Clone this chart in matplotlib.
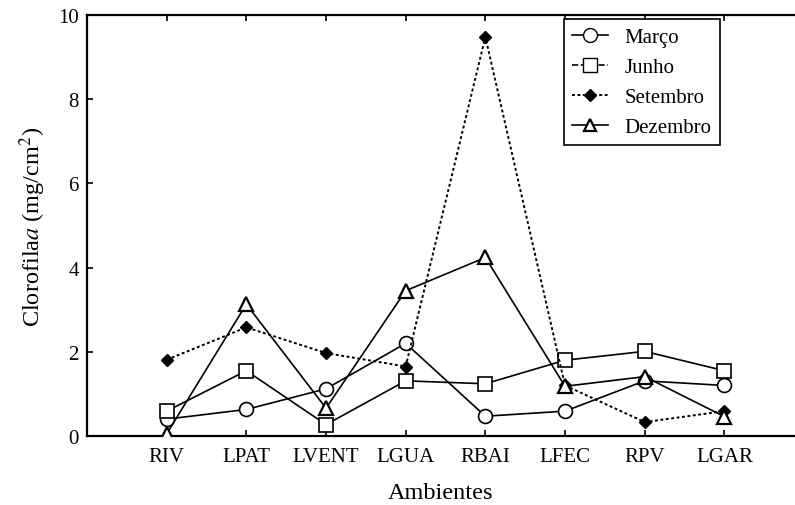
import matplotlib
matplotlib.use('Agg')
import matplotlib.pyplot as plt
from matplotlib.lines import Line2D

plt.rcParams['font.family'] = ['Liberation Serif', 'DejaVu Serif']
plt.rcParams['mathtext.fontset'] = 'stix'

ambientes = ['RIV', 'LPAT', 'LVENT', 'LGUA', 'RBAI', 'LFEC', 'RPV', 'LGAR']
marco = [0.40, 0.63, 1.12, 2.20, 0.47, 0.59, 1.31, 1.20]
junho = [0.59, 1.55, 0.27, 1.31, 1.24, 1.80, 2.01, 1.55]
setembro = [1.81, 2.58, 1.97, 1.65, 9.48, 1.20, 0.33, 0.59]
dezembro = [0.05, 3.13, 0.66, 3.45, 4.24, 1.18, 1.41, 0.46]

x = list(range(1, len(ambientes) + 1))

fig = plt.figure(figsize=(7.95, 5.06), dpi=100)
ax = fig.add_axes([0.1094, 0.1364, 0.902, 0.832])

ax.plot(x, marco, '-', color='black', lw=1.2, marker='o', ms=10, mfc='white', mec='black', mew=1.2, zorder=3)
ax.plot(x, junho, '-', color='black', lw=1.2, marker='s', ms=10, mfc='white', mec='black', mew=1.2, zorder=3)
ax.plot(x, setembro, color='black', lw=1.4, ls=(0, (1.5, 1.3)), marker='D', ms=6.5, mfc='black', mec='black', zorder=4)
ax.plot(x, dezembro, '-', color='black', lw=1.2, marker='^', ms=10, mfc='white', mec='black', mew=1.6, zorder=4)

ax.set_xlim(0, 9)
ax.set_ylim(0, 10)
ax.set_xticks(x)
ax.set_xticklabels(ambientes, fontsize=15)
ax.set_yticks([0, 2, 4, 6, 8, 10])
ax.tick_params(axis='y', labelsize=15, direction='in', length=4, width=1.2, pad=6)
ax.tick_params(axis='x', direction='in', length=4, width=1.2, pad=8, top=True)
for s in ['left', 'bottom', 'top']:
    ax.spines[s].set_linewidth(1.6)
ax.spines['right'].set_visible(False)

ax.set_xlabel('Ambientes', fontsize=17.5)
ax.xaxis.set_label_coords(0.493, -0.11)
ax.set_ylabel(r'Clorofila$\mathit{a}$ (mg/cm$^{2}$)', fontsize=17.5, labelpad=7)

handles = [
    Line2D([], [], ls='-', color='black', lw=1.2, marker='o', ms=10, mfc='white', mec='black'),
    Line2D([], [], ls='--', color='black', lw=1.2, marker='s', ms=10, mfc='white', mec='black'),
    Line2D([], [], ls=(0, (1.5, 1.3)), color='black', lw=1.4, marker='D', ms=6.5, mfc='black', mec='black'),
    Line2D([], [], ls='-', color='black', lw=1.2, marker='^', ms=9, mfc='white', mec='black', mew=1.6),
]
leg = ax.legend(handles, ['Março', 'Junho', 'Setembro', 'Dezembro'], loc='upper left',
                bbox_to_anchor=(0.665, 0.99), fontsize=15, fancybox=False, edgecolor='black',
                framealpha=1, handlelength=1.7, borderaxespad=0, labelspacing=0.5,
                handletextpad=0.8, borderpad=0.4)
leg.get_frame().set_linewidth(1.2)

plt.savefig('out.png', dpi=100)
